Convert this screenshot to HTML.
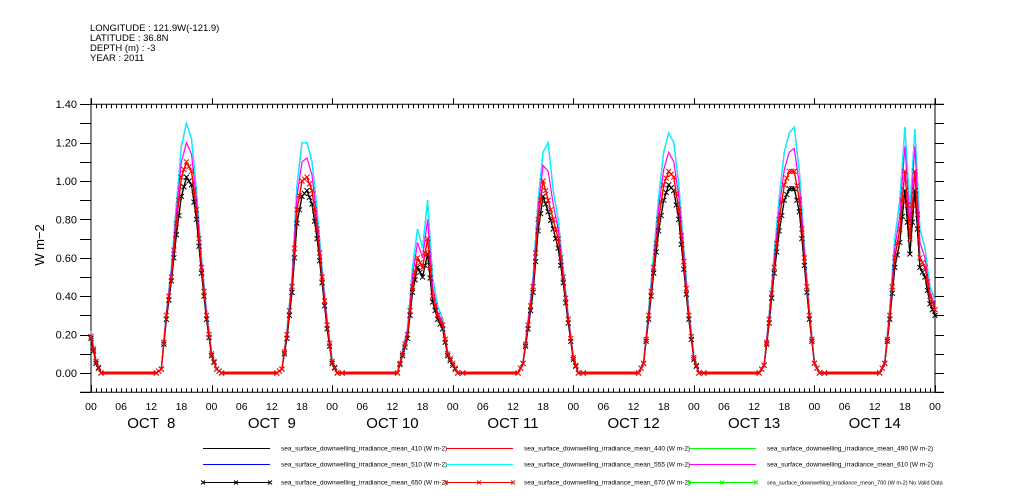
<!DOCTYPE html>
<html><head><meta charset="utf-8"><style>
body{margin:0;background:#fff;}
svg{display:block;font-family:"Liberation Sans",sans-serif;}
</style></head><body>
<svg id="chart" width="1009" height="504" viewBox="0 0 1009 504" xmlns="http://www.w3.org/2000/svg">
<g font-size="9.5" fill="#000">
<text x="90" y="31">LONGITUDE : 121.9W(-121.9)</text>
<text x="90" y="41">LATITUDE : 36.8N</text>
<text x="90" y="51">DEPTH (m) : -3</text>
<text x="90" y="61">YEAR : 2011</text>
</g>
<text x="44" y="245" font-size="13" text-anchor="middle" transform="rotate(-90 44 245)">W m−2</text>
<g id="axes"></g>
<g id="series"></g>
<g id="legend"></g>
</svg>
<script>
const startRed=[0.19,0.06,0];
const startBlack=[0.18,0.05,0];
const startCyan=[0.22,0.07,0];
const startMag=[0.2,0.06,0];
const days=["OCT  8","OCT  9","OCT 10","OCT 11","OCT 12","OCT 13","OCT 14"];
const red670=[
[0.02,0.3,0.5,0.78,1.02,1.1,1.05,0.85,0.55,0.3,0.1,0.02],
[0.02,0.2,0.45,0.85,1.0,1.02,0.95,0.75,0.5,0.25,0.06,0],
[0.1,0.2,0.45,0.6,0.55,0.7,0.4,0.3,0.25,0.1,0.05,0],
[0.05,0.25,0.45,0.8,1.0,0.9,0.8,0.7,0.5,0.28,0.08,0],
[0.05,0.3,0.55,0.8,0.98,1.05,1.02,0.85,0.58,0.3,0.08,0],
[0.04,0.28,0.55,0.8,0.98,1.05,1.05,0.9,0.6,0.3,0.05,0],
[0.05,0.3,0.6,0.75,1.05,0.7,1.05,0.6,0.55,0.4,0.33]];
const black410=[
[0.02,0.28,0.48,0.72,0.92,1.02,0.98,0.8,0.52,0.28,0.09,0.02],
[0.02,0.18,0.42,0.78,0.92,0.95,0.88,0.7,0.47,0.23,0.05,0],
[0.09,0.18,0.42,0.55,0.5,0.62,0.37,0.28,0.23,0.09,0.04,0],
[0.05,0.23,0.42,0.74,0.92,0.84,0.75,0.65,0.47,0.26,0.07,0],
[0.05,0.28,0.52,0.74,0.9,0.98,0.95,0.8,0.54,0.28,0.07,0],
[0.04,0.26,0.52,0.74,0.9,0.96,0.96,0.84,0.56,0.28,0.05,0],
[0.05,0.28,0.55,0.68,0.95,0.62,0.95,0.55,0.5,0.36,0.3]];
const cyan555=[
[0.02,0.32,0.55,0.88,1.18,1.3,1.22,0.95,0.6,0.33,0.11,0.02],
[0.02,0.22,0.5,0.98,1.2,1.2,1.1,0.85,0.55,0.28,0.07,0],
[0.12,0.23,0.55,0.75,0.65,0.9,0.5,0.35,0.28,0.11,0.05,0],
[0.06,0.28,0.5,0.9,1.15,1.2,0.95,0.8,0.55,0.3,0.09,0],
[0.06,0.33,0.62,0.92,1.15,1.25,1.2,0.98,0.65,0.33,0.09,0],
[0.05,0.31,0.62,0.92,1.15,1.25,1.28,1.05,0.66,0.33,0.06,0],
[0.06,0.34,0.7,0.9,1.28,0.85,1.27,0.75,0.65,0.45,0.38]];
const mag610=[
[0.02,0.31,0.53,0.84,1.1,1.2,1.14,0.9,0.58,0.31,0.1,0.02],
[0.02,0.21,0.48,0.92,1.1,1.12,1.03,0.8,0.52,0.27,0.06,0],
[0.11,0.22,0.5,0.68,0.6,0.8,0.45,0.32,0.26,0.1,0.05,0],
[0.05,0.27,0.48,0.85,1.08,1.05,0.88,0.75,0.52,0.29,0.08,0],
[0.05,0.31,0.58,0.86,1.06,1.15,1.1,0.92,0.62,0.31,0.08,0],
[0.05,0.3,0.58,0.86,1.06,1.15,1.17,0.98,0.63,0.31,0.05,0],
[0.06,0.32,0.65,0.82,1.18,0.78,1.18,0.68,0.6,0.42,0.35]];
const yTicks=["0.00","0.20","0.40","0.60","0.80","1.00","1.20","1.40"];
const xTickLabels=["00","06","12","18"];

const NS="http://www.w3.org/2000/svg";
const X0=91,X1=935,Y0=373,PER=38.4/0.2,HOURS=168;
const xs=h=>X0+(X1-X0)*h/HOURS;
const ys=v=>Y0-v*PER;
function mk(tag,attrs,parent){const e=document.createElementNS(NS,tag);for(const k in attrs)e.setAttribute(k,attrs[k]);parent.appendChild(e);return e;}

const ax=document.getElementById('axes');
const yTop=ys(1.4),yBot=ys(-0.1);
let p=mk('path',{d:`M${X0} ${yTop-6}V${yBot}M${X1} ${yTop-6}V${yBot}M${X0} ${yTop}H${X1+9}M80 ${yBot}H${X1+9}`,stroke:'#000','stroke-width':1,fill:'none'},ax);


let d='';
for(let v=-0.1;v<=1.401;v+=0.1){const y=Math.round(ys(v))+0.5;d+=`M${X0-11} ${y}H${X0}M${X1} ${y}H${X1+9}`;}
for(let h=0;h<=HOURS;h++){const x=Math.round(xs(h))+0.5;
 if(h%24===0){d+=`M${x} ${yTop-6}V${yTop}M${x} ${yBot}V${yBot-7}`;}
 else{d+=`M${x} ${yTop}V${yTop+4}M${x} ${yBot}V${yBot-4}`;}}
p=mk('path',{d:d,stroke:'#000','stroke-width':1,fill:'none'},ax);


yTicks.forEach(t=>{const e=mk('text',{x:77,y:ys(+t)+4,'font-size':11,'text-anchor':'end'},ax);e.textContent=t;
 
 });
for(let h=0;h<=HOURS;h+=6){const e=mk('text',{x:xs(h),y:410,'font-size':10.5,'text-anchor':'middle'},ax);
 e.textContent=xTickLabels[(h/6)%4];
 
 }
days.forEach((dl,i)=>{const e=mk('text',{x:xs(i*24+12),y:428,'font-size':15,'text-anchor':'middle',style:'white-space:pre'},ax);
 e.textContent=dl;
 
 });

function buildPoints(start,arr){
 const pts=[];start.forEach((v,i)=>pts.push([i,v]));
 for(let d=0;d<days.length;d++){
  const base=d*24;
  if(d>0)pts.push([base+2,0]);
  pts.push([base+13,0]);
  arr[d].forEach((v,j)=>{const h=base+14+j;if(h<=HOURS)pts.push([h,v]);});
 }
 return pts;
}
const sg=document.getElementById('series');
function drawSeries(name,start,arr,color,marker){
 const pts=buildPoints(start,arr);
 const g=mk('g',{},sg);
 
 
 mk('polyline',{points:pts.map(q=>xs(q[0]).toFixed(1)+','+ys(q[1]).toFixed(1)).join(' '),fill:'none',stroke:color,'stroke-width':1.2},g);
 if(marker){let dd='';pts.forEach(q=>{const x=xs(q[0]),y=ys(q[1]);dd+=`M${x-2.5} ${y-2.5}L${x+2.5} ${y+2.5}M${x-2.5} ${y+2.5}L${x+2.5} ${y-2.5}`;});
  for(let i=0;i<pts.length-1;i++){if(pts[i][1]===0&&pts[i+1][1]===0)continue;const x=(xs(pts[i][0])+xs(pts[i+1][0]))/2,y=(ys(pts[i][1])+ys(pts[i+1][1]))/2;dd+=`M${x-2.5} ${y-2.5}L${x+2.5} ${y+2.5}M${x-2.5} ${y+2.5}L${x+2.5} ${y-2.5}`;}
  mk('path',{d:dd,stroke:color,'stroke-width':1,fill:'none'},g);}
}
drawSeries('series-410',startBlack,black410,'#000',false);
drawSeries('series-490',startRed,red670,'#00ff00',false);
drawSeries('series-510',startCyan,cyan555,'#0000ff',false);
drawSeries('series-555',startCyan,cyan555,'#00ffff',false);
drawSeries('series-610',startMag,mag610,'#ff00ff',false);
drawSeries('series-650',startBlack,black410,'#000',true);
drawSeries('series-440',startRed,red670,'#ff0000',false);
drawSeries('series-670',startRed,red670,'#ff0000',true);
p=mk('path',{d:`M${xs(2)} ${Y0}H${xs(13)}M${xs(26)} ${Y0}H${xs(37)}M${xs(50)} ${Y0}H${xs(61)}M${xs(74)} ${Y0}H${xs(85)}M${xs(98)} ${Y0}H${xs(109)}M${xs(122)} ${Y0}H${xs(133)}M${xs(146)} ${Y0}H${xs(157)}`,stroke:'#ff0000','stroke-width':3},sg);



const legendItems=[
["410","#000",false,""],["440","#ff0000",false,""],["490","#00ff00",false,""],
["510","#0000ff",false,""],["555","#00ffff",false,""],["610","#ff00ff",false,""],
["650","#000",true,""],["670","#ff0000",true,""],["700","#00ff00",true," No Valid Data"]];
const lg=document.getElementById('legend');
legendItems.forEach((it,i)=>{const c=i%3,r=Math.floor(i/3);const lx=203+c*243,ly=[448,464,482][r];
 const g=mk('g',{},lg);
 
 
 mk('line',{x1:lx,x2:lx+67,y1:ly+0.5,y2:ly+0.5,stroke:it[1],'stroke-width':1},g);
 if(it[2]){let dd='';[0,33,67].forEach(o=>{dd+=`M${lx+o-2} ${ly-1.5}L${lx+o+2} ${ly+2.5}M${lx+o-2} ${ly+2.5}L${lx+o+2} ${ly-1.5}`;});mk('path',{d:dd,stroke:it[1],fill:'none'},g);}
 const t=mk('text',{x:lx+78,y:ly+2.5,'font-size':i==8?5.5:6.5},g);
 t.textContent='sea_surface_downwelling_irradiance_mean_'+it[0]+' (W m-2)'+it[3];});
</script>
</body></html>
